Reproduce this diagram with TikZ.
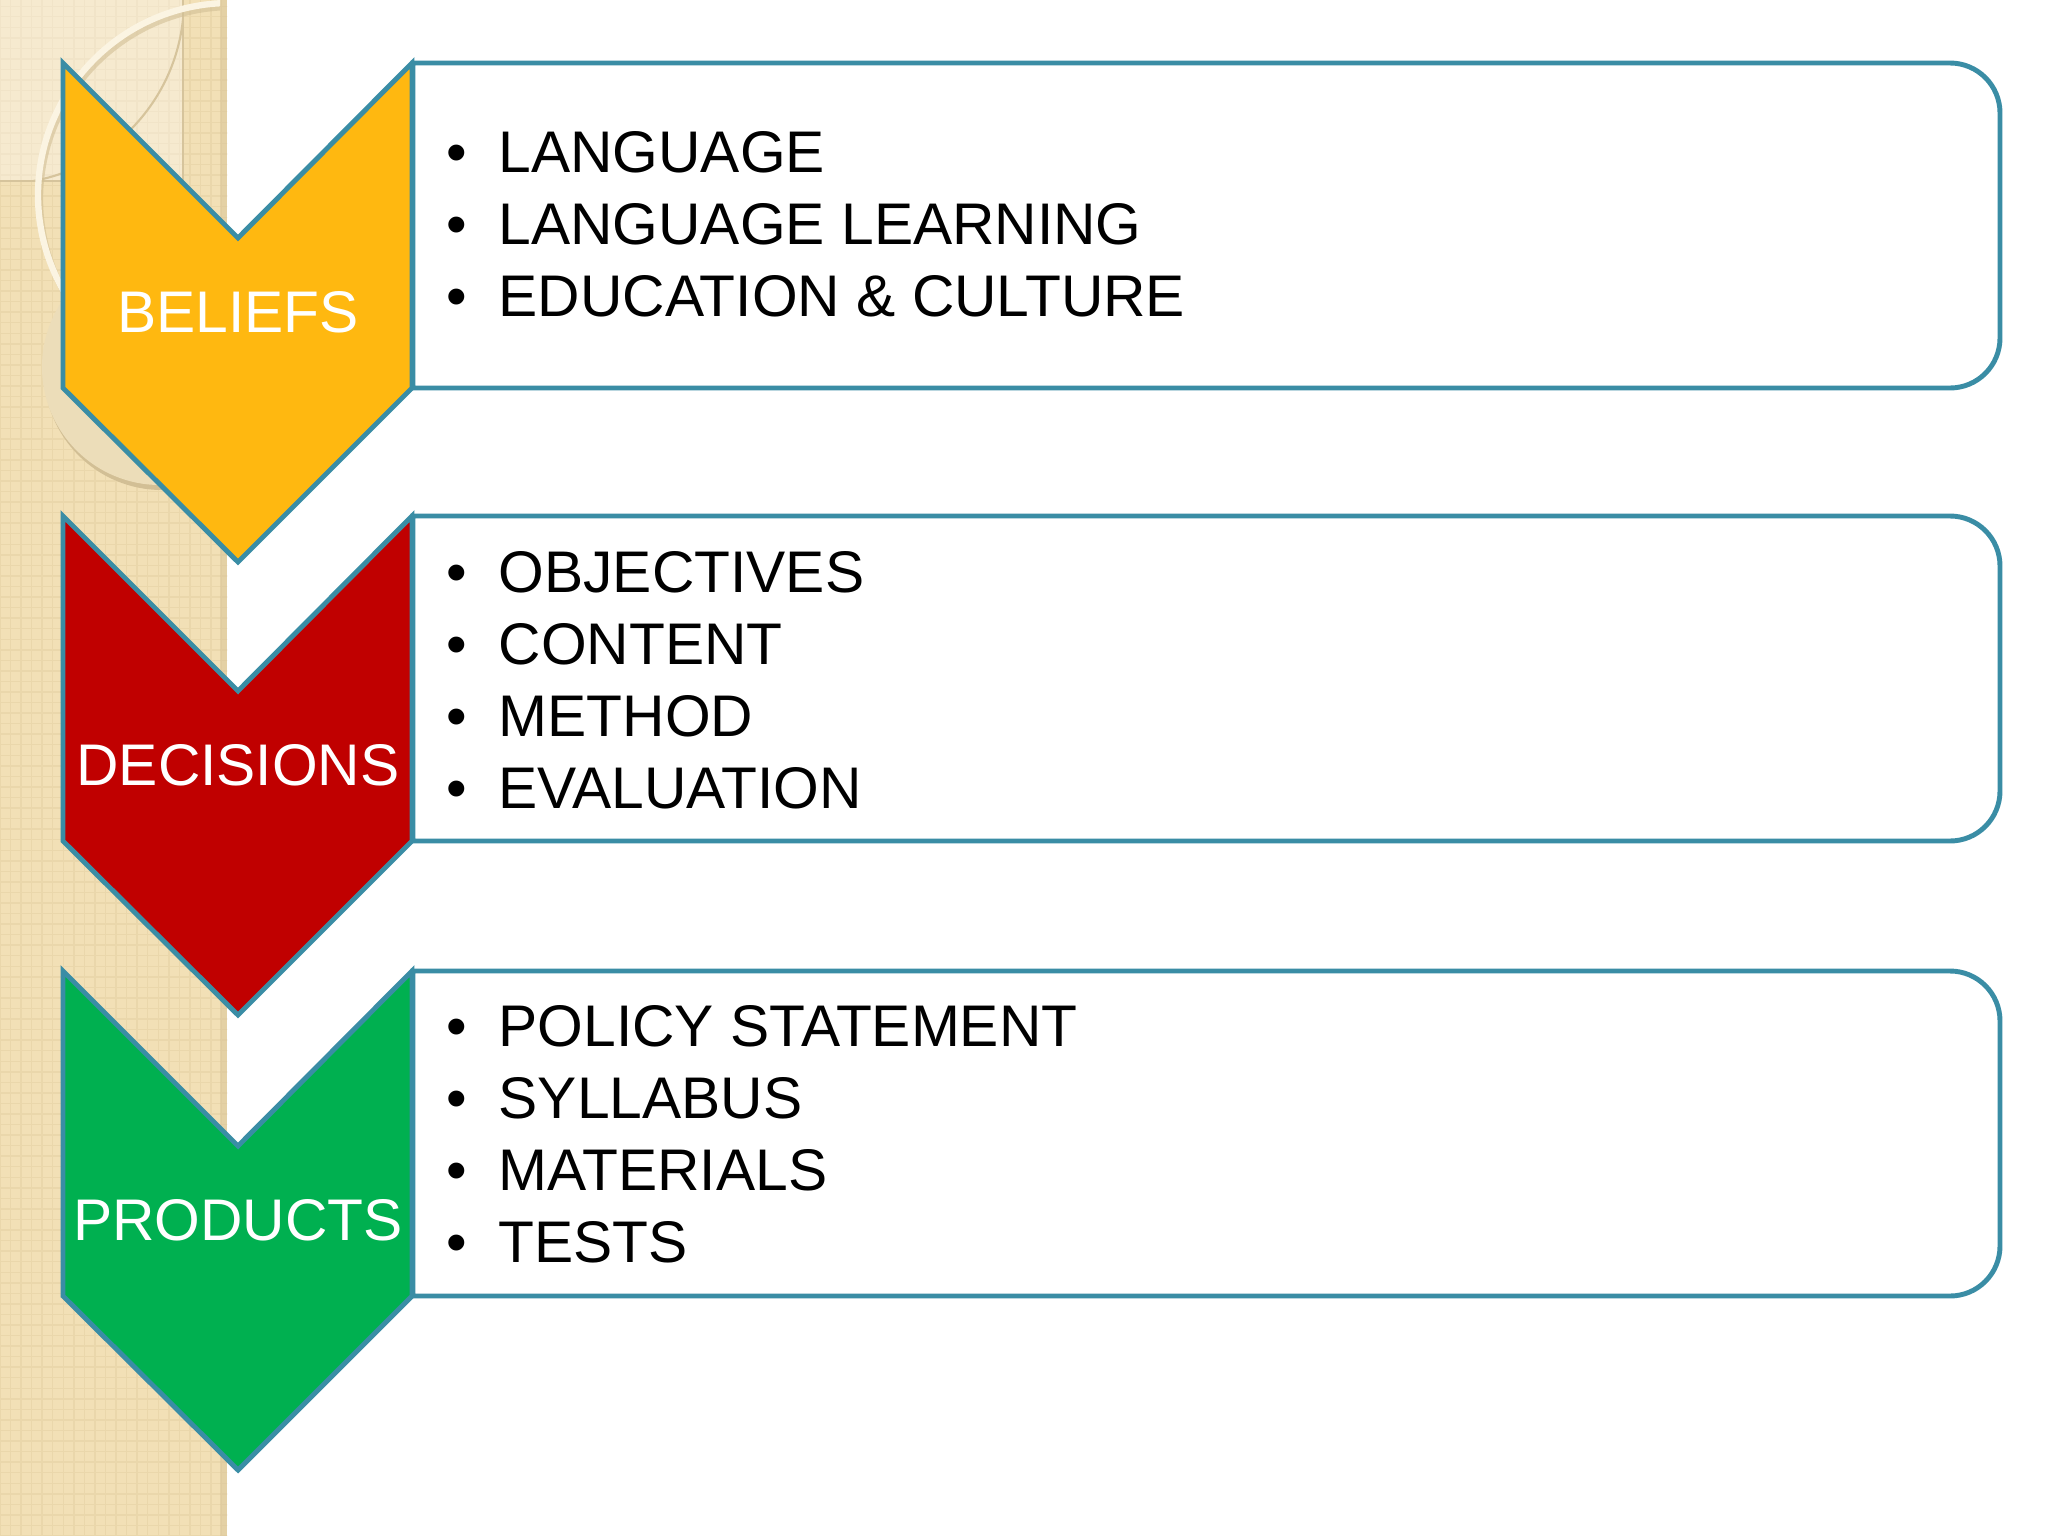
\documentclass[tikz,border=0pt]{standalone}
\usepackage{fontspec}
\setmainfont{Liberation Sans}
\usetikzlibrary{patterns}

\definecolor{chevline}{HTML}{3A8DA5}
\definecolor{beliefyellow}{HTML}{FFB810}
\definecolor{decisionred}{HTML}{C00000}
\definecolor{productgreen}{HTML}{00B050}
\definecolor{stripbeige}{HTML}{F2E0B6}
\definecolor{stripdot}{HTML}{EAD7AB}
\definecolor{stripshade}{HTML}{D8C396}
\definecolor{frameline}{HTML}{D6C49C}
\definecolor{ringcream}{HTML}{FBF4E2}
\definecolor{discfill}{HTML}{ECDDB9}
\definecolor{discshade}{HTML}{D2BF95}

\tikzset{
    chevron/.style={draw=chevline, line width=1.4pt, line join=miter},
    listbox/.style={draw=chevline, line width=1.4pt, fill=white},
    chevlabel/.style={text=white, inner sep=0pt, font=\fontsize{16.7}{20}\selectfont},
    listitem/.style={anchor=base west, inner sep=0pt, font=\fontsize{16.7}{20}\selectfont}
}
\newcommand{\bul}{\makebox[0.52cm][l]{\textbullet}}

\begin{document}
\begin{tikzpicture}[x=0.01cm, y=-0.01cm]

    \useasboundingbox (0,0) rectangle (2048,1536);
    \fill[white] (0,0) rectangle (2048,1536);

    % textured strip on the left
    \fill[stripbeige] (0,0) rectangle (227,1536);
    \fill[pattern=grid, pattern color=stripdot] (0,0) rectangle (227,1536);
    \fill[stripshade, opacity=0.5] (220,0) rectangle (227,1536);
    \fill[white, opacity=0.35] (0,0) rectangle (183,181);
    \draw[frameline, line width=0.6pt] (0,181) -- (183,181) -- (183,0);
    \begin{scope}
        \clip (0,0) rectangle (183,181);
        \draw[frameline, line width=0.6pt] (0,0) circle[radius=184];
    \end{scope}
    \begin{scope}
        \clip (0,0) rectangle (220,1536);
        \fill[discshade] (162,372) circle[radius=118];
        \fill[discfill] (160,367) circle[radius=118];
        \draw[discshade, line width=1.8pt, opacity=0.6] (232,199) circle[radius=192];
        \draw[ringcream, line width=1.8pt] (230,195) circle[radius=192];
    \end{scope}

    % chevrons with their boxes
    \foreach \top/\col/\lab/\nm in {63/beliefyellow/BELIEFS/beliefs, 516/decisionred/DECISIONS/decisions, 971/productgreen/PRODUCTS/products} {
        \draw[listbox] (413,\top) -- (1950,\top) arc[start angle=270, end angle=360, radius=50]
            -- (2000,\top+275) arc[start angle=0, end angle=90, radius=50] -- (413,\top+325) -- cycle;
        \draw[chevron, fill=\col] (63,\top) -- (238,\top+175) -- (412,\top) -- (412,\top+325)
            -- (238,\top+499) -- (63,\top+325) -- cycle;
        \node[chevlabel] (\nm) at (238,\top+249) {\lab};
    }

    \foreach \txt [count=\i] in {LANGUAGE, LANGUAGE LEARNING, EDUCATION \& CULTURE}
        \node[listitem] (beliefs-\i) at (446,100+72*\i) {\bul\txt};
    \foreach \txt [count=\i] in {OBJECTIVES, CONTENT, METHOD, EVALUATION}
        \node[listitem] (decisions-\i) at (446,520+72*\i) {\bul\txt};
    \foreach \txt [count=\i] in {POLICY STATEMENT, SYLLABUS, MATERIALS, TESTS}
        \node[listitem] (products-\i) at (446,974+72*\i) {\bul\txt};

\end{tikzpicture}
\end{document}
